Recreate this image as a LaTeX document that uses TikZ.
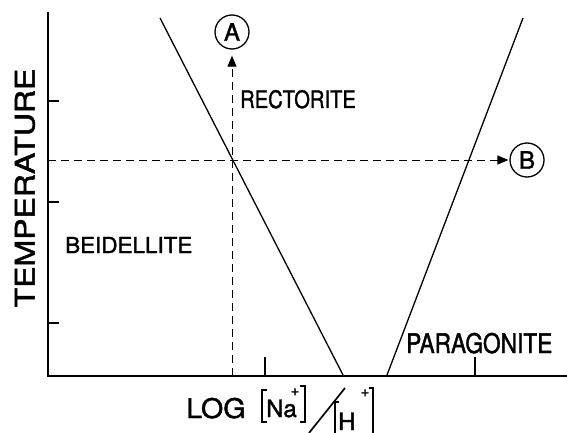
\documentclass[tikz,border=0pt]{standalone}
\usepackage{fontspec}
\setmainfont{TeX Gyre Heros}[BoldFont={TeX Gyre Heros},BoldFeatures={FakeBold=1.6}]
\usetikzlibrary{arrows.meta}
\begin{document}
\begin{tikzpicture}[x=1pt,y=-1pt,
  axis/.style={line width=1.8pt},
  bound/.style={line width=1.3pt},
  dline/.style={line width=1pt,dash pattern=on 8pt off 5pt},
  tick/.style={line width=1.5pt},
  lbl/.style={inner sep=0pt,anchor=base west},
  circ/.style={circle,draw,line width=1.3pt,inner sep=0pt,minimum size=34pt,font=\fontsize{24}{24}\selectfont\bfseries},
  tip/.style={-{Triangle[length=11pt,width=9pt]}}]
\useasboundingbox (0,0) rectangle (567,433);
% axes
\coordinate (O) at (48,376);
\coordinate (ytop) at (48,12);
\coordinate (xend) at (567,376);
\draw[axis] (ytop) -- (O) -- (xend);
% ticks
\foreach \y/\n in {101/a,202/b,323/c}{
  \coordinate (yt\n) at (48,\y);
  \coordinate (yu\n) at (59,\y);
  \draw[tick] (yt\n) -- (yu\n);}
\foreach \x/\n in {265/a,475/b}{
  \coordinate (xt\n) at (\x,376);
  \coordinate (xu\n) at (\x,357);
  \draw[tick] (xt\n) -- (xu\n);}
% boundaries
\coordinate (L1) at (160,18);
\coordinate (L2) at (343,375);
\coordinate (R1) at (523,18);
\coordinate (R2) at (387,375);
\draw[bound] (L1) -- (L2);
\draw[bound] (R1) -- (R2);
% circles
\node[circ] (A) at (232,32) {A};
\node[circ] (B) at (527,160) {B};
% dashed arrows
\coordinate (vb) at (232,376);
\coordinate (hl) at (48,160);
\draw[dline,tip,shorten >=6pt] (vb) -- (A.south);
\draw[dline,tip,shorten >=1pt] (hl) -- (B.west);
% field labels
\node[lbl,font=\fontsize{24}{24}\selectfont\bfseries,xscale=0.84] (rec) at (240,108) {RECTORITE};
\node[lbl,font=\fontsize{22}{22}\selectfont\bfseries,xscale=1.02] (bei) at (65,253) {BEIDELLITE};
\node[lbl,font=\fontsize{27}{27}\selectfont\bfseries,xscale=0.84] (par) at (406,353) {PARAGONITE};
\node[font=\fontsize{32}{32}\selectfont\bfseries,xscale=0.84,rotate=90,inner sep=0pt] (temp) at (25,188) {TEMPERATURE};
% x-axis label
\node[lbl,font=\fontsize{27}{27}\selectfont\bfseries,xscale=1.06] (log) at (186,418) {LOG};
\coordinate (b1a) at (267,390); \coordinate (b1b) at (262,390);
\coordinate (b1c) at (262,422); \coordinate (b1d) at (267,422);
\draw[line width=1.7pt] (b1a) -- (b1b) -- (b1c) -- (b1d);
\node[lbl,font=\fontsize{24}{24}\selectfont\bfseries] (na) at (266,417) {Na};
\node[inner sep=0pt,font=\fontsize{15}{15}\selectfont\bfseries] (p1) at (295,392) {+};
\coordinate (b2a) at (300,386); \coordinate (b2b) at (305,386);
\coordinate (b2c) at (305,422); \coordinate (b2d) at (300,422);
\draw[line width=1.7pt] (b2a) -- (b2b) -- (b2c) -- (b2d);
\coordinate (s1) at (309,433); \coordinate (s2) at (345,388);
\draw[line width=1.7pt] (s1) -- (s2);
\coordinate (b3a) at (339,402); \coordinate (b3b) at (335,402);
\coordinate (b3c) at (335,440);
\draw[line width=1.7pt] (b3a) -- (b3b) -- (b3c);
\node[lbl,font=\fontsize{24}{24}\selectfont\bfseries] (h) at (338,430) {H};
\node[inner sep=0pt,font=\fontsize{15}{15}\selectfont\bfseries] (p2) at (365,393) {+};
\coordinate (b4a) at (369,388); \coordinate (b4b) at (373,388);
\coordinate (b4c) at (373,440);
\draw[line width=1.7pt] (b4a) -- (b4b) -- (b4c);
\end{tikzpicture}
\end{document}
